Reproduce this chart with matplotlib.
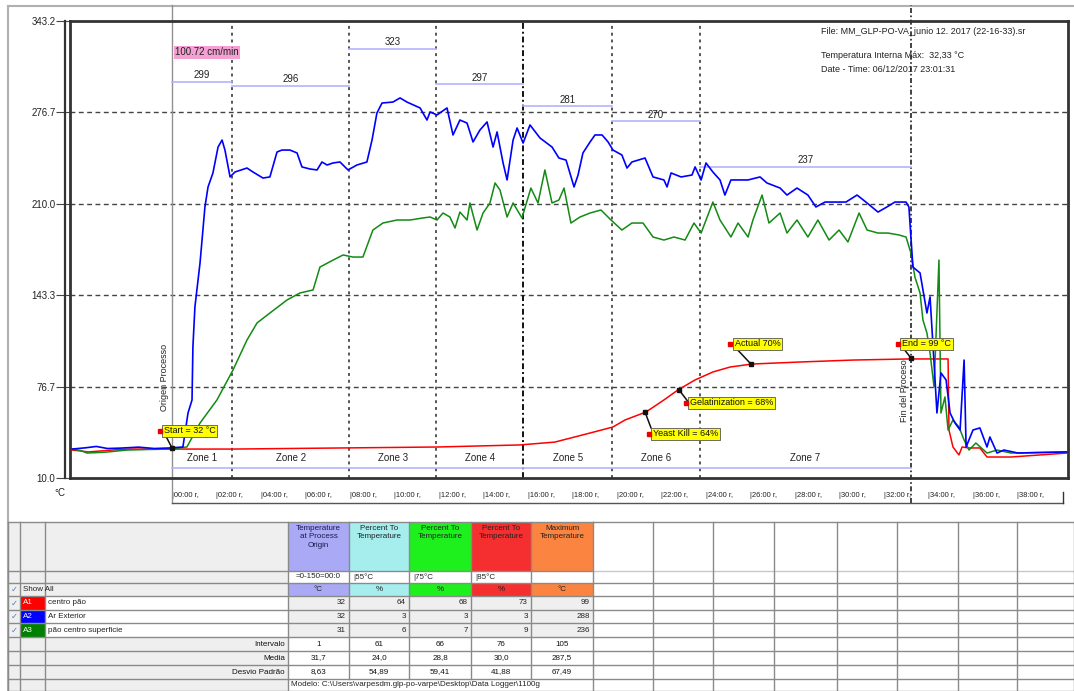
import matplotlib.pyplot as plt
from matplotlib.patches import Rectangle
import matplotlib.transforms as mtransforms

plt.rcParams['font.family'] = ['Liberation Sans', 'DejaVu Sans']

W, H = 1074, 691

# ---------------------------------------------------------------------------
# Data (time in minutes from process origin, temperature in deg C)
# ---------------------------------------------------------------------------
a1_t = [-4.49, -4.0, -3.78, -2.5, -1.89, -0.09, 2.74, 11.91, 15.64, 17.21, 18.79,
        19.82, 20.36, 21.30, 22.11, 22.74, 23.51, 24.31, 25.08, 26.07, 28.27,
        30.61, 33.12, 34.88, 34.92, 35.10, 35.37, 35.51, 35.82, 36.31, 36.63,
        37.71, 40.22]
a1_v = [30.4, 29.5, 29.0, 30.6, 31.1, 31.1, 31.1, 32.6, 34.1, 36.2, 42.8,
        47.2, 52.3, 58.1, 66.9, 74.2, 81.5, 87.3, 90.9, 93.1, 94.6,
        96.0, 96.8, 96.8, 45.0, 32.6, 26.8, 32.6, 31.9, 31.9, 25.3,
        25.3, 28.2]

a2_t = [-4.49, -3.9, -3.4, -2.9, -2.3, -1.5, -0.8, -0.09, 0.49, 0.72, 0.90, 0.94,
        1.03, 1.26, 1.48, 1.62, 1.84, 2.07, 2.25, 2.38, 2.61, 2.83, 3.37, 3.64,
        4.09, 4.40, 4.72, 4.94, 5.30, 5.62, 5.84, 6.20, 6.52, 6.74, 6.97, 7.24,
        7.55, 7.91, 8.31, 8.76, 8.99, 9.21, 9.44, 9.93, 10.25, 10.56, 11.15,
        11.46, 11.60, 11.91, 12.36, 12.63, 12.94, 13.26, 13.53, 13.84, 14.16,
        14.43, 14.61, 14.88, 15.06, 15.33, 15.51, 15.78, 16.09, 16.54, 17.08,
        17.39, 17.71, 18.07, 18.25, 18.47, 18.79, 19.01, 19.33, 19.60, 19.82,
        20.22, 20.45, 20.67, 21.26, 21.62, 22.11, 22.25, 22.43, 22.88, 23.37,
        23.51, 23.78, 24.00, 24.31, 24.63, 24.85, 25.12, 25.89, 26.43, 26.74,
        27.33, 27.64, 28.09, 28.58, 28.94, 29.35, 30.29, 30.79, 31.24, 31.73,
        32.13, 32.49, 32.99, 33.12, 33.30, 33.62, 33.93, 34.07, 34.25, 34.38,
        34.56, 34.79, 34.97, 35.19, 35.42, 35.60, 35.69, 36.00, 36.31, 36.63,
        36.76, 37.08, 37.39, 38.02, 40.22]
a2_v = [31.1, 32.0, 33.0, 31.5, 31.8, 32.5, 31.5, 31.9, 32.6, 57.4, 66.9, 105.5,
        134.7, 166.8, 207.6, 222.2, 232.4, 251.3, 256.4, 249.1, 229.5, 233.1, 236.0, 233.1,
        228.7, 229.5, 247.7, 249.1, 249.1, 247.0, 236.8, 235.3, 234.6, 240.4, 238.2, 239.7,
        240.4, 234.6, 238.2, 240.4, 256.4, 276.1, 283.4, 284.1, 287.1, 284.1, 279.8,
        271.0, 276.9, 274.7, 279.8, 260.1, 271.0, 268.8, 255.0, 263.7, 269.6,
        251.3, 262.3, 239.7, 227.3, 256.4, 265.2, 254.2, 267.4, 257.9, 251.3,
        243.3, 241.8, 222.2, 230.9, 247.0, 255.0, 260.1, 260.1, 255.0, 249.1,
        245.5, 236.0, 240.4, 243.3, 229.5, 227.3, 222.2, 232.4, 229.5, 230.9,
        236.8, 227.3, 239.7, 233.1, 227.3, 216.3, 227.3, 227.3, 229.5, 225.1,
        221.4, 216.3, 221.4, 216.3, 207.6, 211.2, 211.2, 216.3, 210.5, 203.9,
        207.6, 211.2, 211.2, 207.6, 163.8, 159.5, 130.3, 142.0, 93.8, 57.4,
        86.6, 81.5, 57.4, 50.1, 45.0, 96.0, 32.6, 45.0, 46.5, 32.6,
        39.9, 28.2, 30.4, 28.2, 29.0]

a3_t = [-4.49, -4.1, -3.82, -3.0, -2.02, -1.0, -0.09, 0.67, 1.26, 2.02, 2.74, 3.37,
        3.82, 4.40, 5.17, 5.75, 6.34, 6.65, 7.24, 7.69, 8.13, 8.58, 9.03, 9.48,
        10.11, 10.70, 11.28, 11.60, 11.91, 12.18, 12.49, 12.72, 12.94, 13.26,
        13.39, 13.71, 13.98, 14.29, 14.52, 14.74, 15.06, 15.33, 15.73, 16.13,
        16.45, 16.76, 17.08, 17.39, 17.62, 17.93, 18.34, 18.79, 19.28, 19.73,
        20.22, 20.67, 21.17, 21.62, 22.11, 22.56, 23.06, 23.46, 23.78, 24.31,
        24.63, 25.12, 25.44, 25.89, 26.11, 26.52, 26.83, 27.33, 27.64, 28.09,
        28.58, 29.03, 29.53, 29.98, 30.38, 30.88, 31.24, 31.73, 32.18, 32.67,
        32.99, 33.21, 33.39, 33.62, 33.75, 33.93, 34.07, 34.25, 34.47, 34.56,
        34.74, 34.88, 35.10, 35.37, 35.60, 35.82, 36.13, 36.63, 37.08, 37.71,
        40.22]
a3_v = [31.1, 30.0, 28.2, 28.8, 30.4, 30.8, 31.1, 32.6, 50.1, 66.9, 88.7, 110.6,
        123.0, 130.3, 139.8, 144.9, 147.1, 163.8, 168.9, 172.6, 171.1, 171.1, 190.8, 195.9,
        198.1, 198.1, 199.6, 200.3, 198.1, 203.2, 200.3, 192.3, 203.9, 198.1,
        210.5, 190.8, 203.2, 210.5, 225.1, 220.0, 200.3, 210.5, 199.6, 221.4,
        210.5, 234.6, 210.5, 212.7, 221.4, 195.9, 200.3, 203.2, 205.4, 198.1,
        190.8, 195.9, 195.9, 185.7, 183.5, 185.7, 183.5, 195.9, 188.6, 211.2,
        198.1, 185.7, 195.9, 185.7, 198.1, 216.3, 195.9, 203.2, 188.6, 198.1,
        185.7, 198.1, 183.5, 190.8, 182.1, 203.2, 190.8, 188.6, 188.6, 187.2,
        185.7, 174.0, 156.5, 144.9, 125.2, 115.7, 101.1, 76.3, 168.9, 57.4,
        69.1, 45.0, 52.3, 47.2, 37.7, 30.4, 35.5, 28.2, 30.4, 28.2,
        29.0]

zone_names = ['Zone 1', 'Zone 2', 'Zone 3', 'Zone 4', 'Zone 5', 'Zone 6', 'Zone 7']
zone_edges = [0.0, 2.70, 7.96, 11.87, 15.78, 19.78, 23.73, 33.21]
zone_setpoints = [299, 296, 323, 297, 281, 270, 237]

y_ticks = [10.0, 76.7, 143.3, 210.0, 276.7, 343.2]
x_ticks = list(range(0, 40, 2))
x_labels = [f'|{m:02d}:00 r,' for m in x_ticks]

event_labels = ['Start = 32 °C', 'Yeast Kill = 64%', 'Gelatinization = 68%',
                'Actual 70%', 'End = 99 °C']
event_t = [0.0, 21.26, 22.79, 26.02, 33.21]
event_v = [31.9, 58.1, 74.2, 93.1, 97.5]

speed_label = '100.72 cm/min'
info_lines = ['File: MM_GLP-PO-VA_junio 12. 2017 (22-16-33).sr',
              'Temperatura Interna Máx:  32,33 °C',
              'Date - Time: 06/12/2017 23:01:31']

# table
col_headers = ['Temperature\nat Process\nOrigin', 'Percent To\nTemperature',
               'Percent To\nTemperature', 'Percent To\nTemperature',
               'Maximum\nTemperature']
col_colors = ['#a9a9f5', '#a6eeee', '#1ef01e', '#f52f2f', '#fb8440']
col_params = ['=0-150=00:0', '|55°C', '|75°C', '|85°C', '']
col_units = ['°C', '%', '%', '%', '°C']
sensor_tags = ['A1', 'A2', 'A3']
sensor_colors = ['#ff0000', '#0000ff', '#008000']
sensor_names = ['centro pão', 'Ar Exterior', 'pão centro superficie']
sensor_vals = [[32, 64, 68, 73, 99],
               [32, 3, 3, 3, 288],
               [31, 6, 7, 9, 236]]
stat_names = ['Intervalo', 'Media', 'Desvio Padrão']
stat_vals = [['1', '61', '66', '76', '105'],
             ['31,7', '24,0', '28,8', '30,0', '287,5'],
             ['8,63', '54,89', '59,41', '41,88', '67,49']]
model_text = 'Modelo: C:\\Users\\varpesdm.glp-po-varpe\\Desktop\\Data Logger\\1100g'

# ---------------------------------------------------------------------------
# Figure
# ---------------------------------------------------------------------------
fig = plt.figure(figsize=(W / 100, H / 100), dpi=100)
fig.patch.set_facecolor('white')

# pixel overlay for frame + table
bg = fig.add_axes([0, 0, 1, 1])
bg.set_xlim(0, W)
bg.set_ylim(H, 0)
bg.axis('off')
bg.patch.set_alpha(0)

# panel frame
bg.plot([8, W], [6, 6], color='#b0b0b0', lw=1.5)
bg.plot([8, 8], [6, H], color='#b0b0b0', lw=1.5)

# main chart axes
ax = fig.add_axes([70 / W, 1 - 478 / H, 998 / W, 457 / H])
ax.set_xlim(-4.584, 40.27)
ax.set_ylim(10.0, 343.2)

for sp in ax.spines.values():
    sp.set_color('#333333')
    sp.set_linewidth(2)
ax.plot([-0.0055, -0.0055], [0, 1], transform=ax.transAxes, clip_on=False,
        color='#333333', lw=1.6)

ax.set_yticks(y_ticks)
ax.set_yticklabels([f'{v:.1f}' for v in y_ticks], fontsize=7, color='#222222')
ax.tick_params(axis='y', length=10, width=0.8, pad=0.5, color='#444444')

ax.set_xticks(x_ticks)
ax.set_xticklabels(x_labels, fontsize=5.5, ha='left', color='#222222')
ax.tick_params(axis='x', length=0, pad=10)

# horizontal grid
for v in y_ticks[1:-1]:
    ax.axhline(v, color='#444444', lw=1, ls=(0, (3.5, 2.5)), zorder=1)

# zone boundaries
for e in zone_edges[1:-1]:
    dark = abs(e - 15.78) < 0.01
    ax.axvline(e, color='#111111' if dark else '#555555', lw=1.4,
               ls=(0, (1.5, 2)) if not dark else (0, (3, 1.5, 1, 1.5)), zorder=1)

xb = mtransforms.blended_transform_factory(ax.transData, ax.transAxes)
# origin / end of process lines reaching outside the frame
ax.plot([zone_edges[0]] * 2, [-0.055, 1.035], transform=xb, clip_on=False,
        color='#909090', lw=1)
ax.plot([zone_edges[-1]] * 2, [-0.055, 1.035], transform=xb, clip_on=False,
        color='#222222', lw=1.2, ls=(0, (3, 1.5, 1, 1.5)))

# x tick underline
ax.plot([0, 40.05], [-0.055, -0.055], transform=xb, clip_on=False,
        color='#555555', lw=1)
ax.plot([40.05, 40.05], [-0.055, -0.03], transform=xb, clip_on=False,
        color='#333333', lw=1)

# zone setpoint bars
for i, sp_v in enumerate(zone_setpoints):
    a, b = zone_edges[i], zone_edges[i + 1]
    ax.plot([a, b], [sp_v, sp_v], color='#b4b4ff', lw=1.2, zorder=2)
    ax.text((a + b) / 2, sp_v + 1.2, str(sp_v), ha='center', va='bottom',
            fontsize=7, color='#222222')
    ax.text((a + b) / 2, 24.6, zone_names[i], ha='center', va='center',
            fontsize=7, color='#222222')
ax.plot([zone_edges[0], zone_edges[-1]], [17.3, 17.3], color='#b4b4ff', lw=1.2)

# speed label
ax.text(0.15, 320.5, speed_label, fontsize=7, color='#222222', va='center',
        bbox=dict(boxstyle='square,pad=0.15', fc='#f5a0d2', ec='none'))

# curves
ax.plot(a1_t, a1_v, color='#ff0000', lw=1.1, zorder=4)
ax.plot(a3_t, a3_v, color='#138a13', lw=1.1, zorder=4)
ax.plot(a2_t, a2_v, color='#0000ff', lw=1.2, zorder=5)

# process markers text
ax.text(-0.32, 83, 'Origen Processo', rotation=90, fontsize=6.5,
        ha='center', va='center', color='#222222')
ax.text(zone_edges[-1] - 0.28, 74, 'Fin del Proceso', rotation=90, fontsize=6.5,
        ha='center', va='center', color='#222222')

# event annotations (offset of label from point, in data units)
label_offsets = [(-0.36, 12.4), (0.36, -16.0), (0.49, -9.5), (-0.72, 14.6),
                 (-0.40, 10.2)]
for lab, t, v, (dx, dy) in zip(event_labels, event_t, event_v, label_offsets):
    tx, ty = t + dx, v + dy
    ax.annotate(lab, xy=(t, v), xytext=(tx, ty), fontsize=6.5, ha='left',
                va='center', color='#111111', zorder=7,
                bbox=dict(boxstyle='square,pad=0.18', fc='#ffff00',
                          ec='#555555', lw=0.6),
                arrowprops=dict(arrowstyle='-', color='#111111', lw=1.1,
                                shrinkA=0, shrinkB=0, relpos=(0.03, 0.0)))
    ax.plot(t, v, 's', color='#111111', ms=3, zorder=8)
    ax.plot(tx - 0.2, ty, 's', color='#ee0000', ms=2.5, zorder=8)

# header info texts
for txt, ypx in zip(info_lines, [31, 56, 70]):
    fig.text(821 / W, 1 - ypx / H, txt, fontsize=6.5, va='center', color='#222222')
fig.text(60 / W, 1 - 493 / H, '°C', fontsize=7, ha='center', va='center',
         color='#222222')

# ---------------------------------------------------------------------------
# Table
# ---------------------------------------------------------------------------
cx = [8, 20, 45, 288, 349, 409, 471, 531, 593, 653, 713, 774, 837, 897, 958,
      1017, 1074]
ry = [522, 571, 583, 596, 610, 623, 637, 651, 665, 679, 691]
grey = '#efefef'


def cell(c0, c1, r0, r1, color):
    bg.add_patch(Rectangle((cx[c0], ry[r0]), cx[c1] - cx[c0], ry[r1] - ry[r0],
                           fc=color, ec='none'))


# left block grey
cell(0, 3, 0, 10, grey)
# sensor names white
for r in range(3, 6):
    cell(2, 3, r, r + 1, 'white')
# header / unit colours
for j, col in enumerate(col_colors):
    cell(3 + j, 4 + j, 0, 1, col)
    cell(3 + j, 4 + j, 2, 3, col)
    for r in range(3, 6):
        cell(3 + j, 4 + j, r, r + 1, grey)
# sensor tags
for i, col in enumerate(sensor_colors):
    cell(1, 2, 3 + i, 4 + i, col)

# grid lines
for k, y in enumerate(ry):
    bg.plot([cx[0], cx[8]], [y, y], color='#8a8a8a', lw=1)
    bg.plot([cx[8], W], [y, y], color='#c8c8c8' if k == 1 else '#8a8a8a', lw=1)
for k, x in enumerate(cx):
    bottom = ry[-2] if 4 <= k <= 7 else H
    bg.plot([x, x], [ry[0], bottom], color='#8a8a8a', lw=1)

fs = 5.8
for j in range(5):
    xc = (cx[3 + j] + cx[4 + j]) / 2
    xr = cx[4 + j] - 3
    bg.text(xc, 525, col_headers[j], ha='center', va='top', fontsize=fs,
            color='#1a1a50' if j == 0 else '#222222', linespacing=1.3)
    bg.text(xc if j == 0 else cx[3 + j] + 4, 577, col_params[j],
            ha='center' if j == 0 else 'left', va='center', fontsize=fs,
            color='#222222')
    bg.text(xc, 589.5, col_units[j], ha='center', va='center', fontsize=fs,
            color='#222222')
    for i in range(3):
        bg.text(xr, (ry[3 + i] + ry[4 + i]) / 2, str(sensor_vals[i][j]),
                ha='right', va='center', fontsize=fs, color='#222222')
    for i in range(3):
        bg.add_patch(Rectangle((cx[3 + j], ry[6 + i]), cx[4 + j] - cx[3 + j],
                               ry[7 + i] - ry[6 + i], fc='white', ec='none',
                               zorder=0.5))
        bg.text(xc, (ry[6 + i] + ry[7 + i]) / 2, stat_vals[i][j],
                ha='center', va='center', fontsize=fs, color='#111111')

# checkboxes
for r in range(2, 6):
    bg.text(14, (ry[r] + ry[r + 1]) / 2, '✓', ha='center', va='center',
            fontsize=6, color='#5a78c8', family='DejaVu Sans')
bg.text(23, 589.5, 'Show All', ha='left', va='center', fontsize=fs,
        color='#222222')
for i in range(3):
    yc = (ry[3 + i] + ry[4 + i]) / 2
    bg.text(23, yc, sensor_tags[i], ha='left', va='center', fontsize=fs,
            color='white')
    bg.text(48, yc, sensor_names[i], ha='left', va='center', fontsize=fs,
            color='#222222')
for i in range(3):
    bg.text(285, (ry[6 + i] + ry[7 + i]) / 2, stat_names[i], ha='right',
            va='center', fontsize=fs, color='#111111')
bg.text(291, 685, model_text, ha='left', va='center', fontsize=fs,
        color='#222222')

fig.savefig('out.png', dpi=100)
